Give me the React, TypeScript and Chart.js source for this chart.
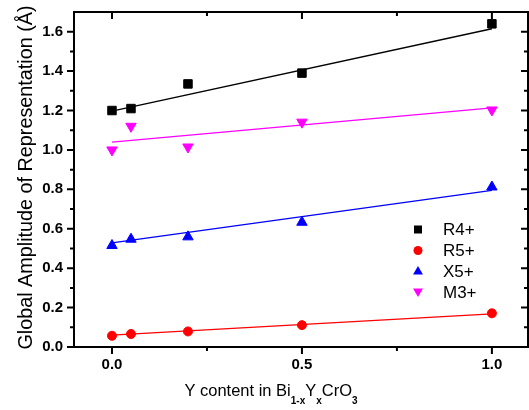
import React, { useEffect, useRef } from "react";
import { Chart, registerables } from "chart.js";

Chart.register(...registerables);

// ---- data ----
const X_VALUES = [0, 0.05, 0.2, 0.5, 1.0];
const R4_VALUES = [1.2, 1.21, 1.335, 1.39, 1.64];
const R5_VALUES = [0.057, 0.066, 0.079, 0.111, 0.171];
const X5_VALUES = [0.515, 0.547, 0.559, 0.633, 0.812];
const M3_VALUES = [1.0, 1.12, 1.015, 1.141, 1.203];

const FIT_X = [0, 1.0];
const R4_FIT = [1.197, 1.615];
const R5_FIT = [0.06, 0.168];
const X5_FIT = [0.528, 0.795];
const M3_FIT = [1.04, 1.213];

const X_TICKS = [0, 0.5, 1.0];
const X_MINOR = [0.25, 0.75];
const Y_TICKS = [0, 0.2, 0.4, 0.6, 0.8, 1.0, 1.2, 1.4, 1.6];
const Y_MINOR = [0.1, 0.3, 0.5, 0.7, 0.9, 1.1, 1.3, 1.5];

const SERIES_NAMES = ["R4+", "R5+", "X5+", "M3+"];
const COLORS = ["#000000", "#ff0000", "#0000ff", "#ff00ff"];

const FONT = "'Liberation Sans', Arial, sans-serif";

function pts(xs: number[], ys: number[]) {
  return xs.map((x, i) => ({ x, y: ys[i] }));
}

function drawMarker(ctx: CanvasRenderingContext2D, kind: number, x: number, y: number, s: number, color: string) {
  ctx.save();
  ctx.fillStyle = color;
  ctx.beginPath();
  if (kind === 0) {
    ctx.rect(x - s, y - s, 2 * s, 2 * s);
  } else if (kind === 1) {
    ctx.arc(x, y, s, 0, Math.PI * 2);
  } else if (kind === 2) {
    ctx.moveTo(x, y - s * 1.1);
    ctx.lineTo(x + s * 1.1, y + s * 0.8);
    ctx.lineTo(x - s * 1.1, y + s * 0.8);
    ctx.closePath();
  } else {
    ctx.moveTo(x, y + s * 1.1);
    ctx.lineTo(x + s * 1.1, y - s * 0.8);
    ctx.lineTo(x - s * 1.1, y - s * 0.8);
    ctx.closePath();
  }
  ctx.fill();
  ctx.restore();
}

const framePlugin = {
  id: "framePlugin",
  afterDraw(chart: any) {
    const ctx: CanvasRenderingContext2D = chart.ctx;
    const { left, right, top, bottom } = chart.chartArea;
    const xs = chart.scales.x;
    const ys = chart.scales.y;
    ctx.save();
    ctx.strokeStyle = "#000";
    ctx.lineWidth = 2;
    ctx.strokeRect(left, top, right - left, bottom - top);
    ctx.beginPath();
    X_TICKS.forEach((v) => {
      const px = xs.getPixelForValue(v);
      ctx.moveTo(px, bottom);
      ctx.lineTo(px, bottom + 7);
      ctx.moveTo(px, top);
      ctx.lineTo(px, top + 7);
    });
    X_MINOR.forEach((v) => {
      const px = xs.getPixelForValue(v);
      ctx.moveTo(px, bottom);
      ctx.lineTo(px, bottom + 4);
      ctx.moveTo(px, top);
      ctx.lineTo(px, top + 4);
    });
    Y_TICKS.forEach((v) => {
      const py = ys.getPixelForValue(v);
      ctx.moveTo(left - 7, py);
      ctx.lineTo(left, py);
      ctx.moveTo(right, py);
      ctx.lineTo(right - 7, py);
    });
    Y_MINOR.forEach((v) => {
      const py = ys.getPixelForValue(v);
      ctx.moveTo(left - 4, py);
      ctx.lineTo(left, py);
      ctx.moveTo(right, py);
      ctx.lineTo(right - 4, py);
    });
    ctx.stroke();

    // y title
    ctx.fillStyle = "#000";
    ctx.save();
    ctx.translate(32, 177.5);
    ctx.rotate(-Math.PI / 2);
    ctx.font = `19.8px ${FONT}`;
    ctx.textAlign = "center";
    ctx.textBaseline = "alphabetic";
    ctx.fillText("Global Amplitude of Representation (Å)", 0, 0);
    ctx.restore();

    // x title with subscripts
    const parts: [string, boolean][] = [
      ["Y content in Bi", false],
      ["1-x", true],
      ["Y", false],
      ["x", true],
      ["CrO", false],
      ["3", true],
    ];
    const mainFont = `16.5px ${FONT}`;
    const subFont = `bold 10px ${FONT}`;
    let total = 0;
    parts.forEach(([t, sub]) => {
      ctx.font = sub ? subFont : mainFont;
      total += ctx.measureText(t).width;
    });
    let cx = 271 - total / 2;
    const base = 396;
    ctx.textAlign = "left";
    ctx.textBaseline = "alphabetic";
    parts.forEach(([t, sub]) => {
      ctx.font = sub ? subFont : mainFont;
      ctx.fillText(t, cx, sub ? base + 8 : base);
      cx += ctx.measureText(t).width;
    });

    // legend
    const legendY = [229.5, 250.5, 271, 292];
    ctx.font = `17px ${FONT}`;
    ctx.textBaseline = "middle";
    SERIES_NAMES.forEach((name, i) => {
      drawMarker(ctx, i, 418, legendY[i], i === 0 ? 4 : 4.5, COLORS[i]);
      ctx.fillStyle = "#000";
      ctx.fillText(name, 443, legendY[i] + 1);
    });
    ctx.restore();
  },
};

const STYLES = ["rect", "circle", "triangle", "triangle"];
const ROT = [0, 0, 0, 180];
const RADII = [6, 4.5, 6, 6];

function zeroPad(s: any) {
  s.paddingLeft = 0;
  s.paddingRight = 0;
  s.paddingTop = 0;
  s.paddingBottom = 0;
}

export default function App() {
  const ref = useRef<HTMLCanvasElement>(null);
  useEffect(() => {
    if (!ref.current) return;
    const seriesVals = [R4_VALUES, R5_VALUES, X5_VALUES, M3_VALUES];
    const fits = [R4_FIT, R5_FIT, X5_FIT, M3_FIT];
    const fitSets = fits.map((f, i) => ({
      type: "line" as const,
      label: SERIES_NAMES[i] + " fit",
      data: pts(FIT_X, f),
      borderColor: COLORS[i],
      borderWidth: 1.3,
      pointRadius: 0,
      showLine: true,
      fill: false,
    }));
    const pointSets = seriesVals.map((v, i) => ({
      type: "scatter" as const,
      label: SERIES_NAMES[i],
      data: pts(X_VALUES, v),
      backgroundColor: COLORS[i],
      borderColor: COLORS[i],
      borderWidth: 1,
      pointStyle: STYLES[i],
      rotation: ROT[i],
      pointRadius: RADII[i],
      showLine: false,
    }));
    const chart = new Chart(ref.current, {
      type: "scatter",
      data: { datasets: [...fitSets, ...pointSets] as any },
      plugins: [framePlugin],
      options: {
        responsive: false,
        animation: false,
        layout: { autoPadding: false, padding: { top: 12, right: 1, left: 0, bottom: 0 } },
        plugins: { legend: { display: false }, tooltip: { enabled: false } },
        scales: {
          x: {
            type: "linear",
            min: -0.1,
            max: 1.095,
            grid: { display: false, drawTicks: false },
            border: { display: false },
            afterBuildTicks: (s: any) => {
              s.ticks = X_TICKS.map((v) => ({ value: v }));
            },
            afterFit: (s: any) => {
              s.height = 63;
              zeroPad(s);
            },
            ticks: {
              color: "#000",
              font: { family: FONT, size: 15, weight: "bold" },
              padding: 9,
              maxRotation: 0,
              callback: (v: any) => Number(v).toFixed(1),
            },
          },
          y: {
            type: "linear",
            min: 0,
            max: 1.7,
            grid: { display: false, drawTicks: false },
            border: { display: false },
            afterBuildTicks: (s: any) => {
              s.ticks = Y_TICKS.map((v) => ({ value: v }));
            },
            afterFit: (s: any) => {
              s.width = 74;
              zeroPad(s);
            },
            ticks: {
              color: "#000",
              font: { family: FONT, size: 15, weight: "bold" },
              padding: 11,
              callback: (v: any) => Number(v).toFixed(1),
            },
          },
        },
      } as any,
    });
    return () => chart.destroy();
  }, []);
  return (
    <div style={{ position: "fixed", left: 0, top: 0, width: 529, height: 410, background: "#fff" }}>
      <canvas ref={ref} width={529} height={410} />
    </div>
  );
}
